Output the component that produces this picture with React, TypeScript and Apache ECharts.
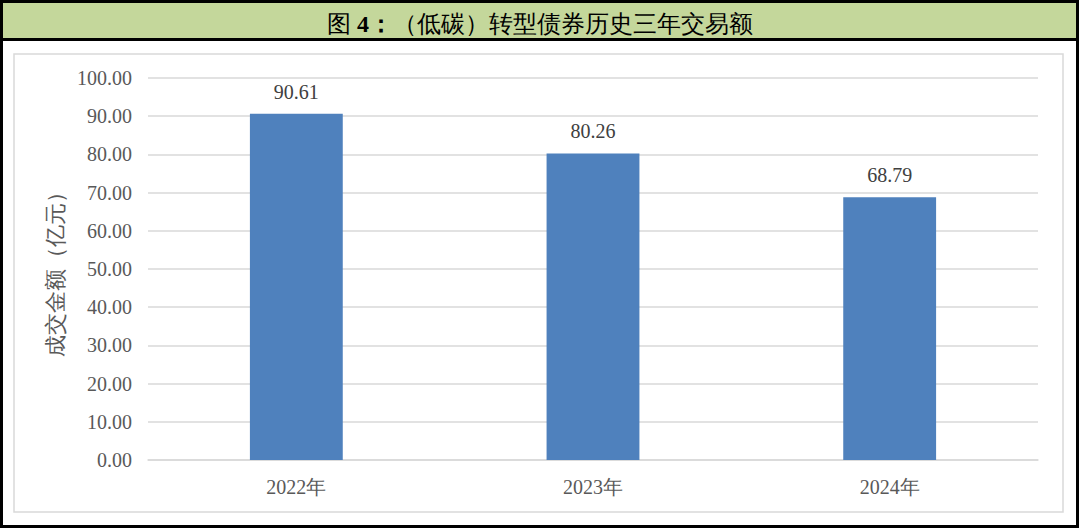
import React, { useEffect, useRef } from "react";
import * as echarts from "echarts";

const categories = ["2022年", "2023年", "2024年"];
const values = [90.61, 80.26, 68.79];
const yTicks = { min: 0, max: 100, interval: 10 };
const titleParts = ["图 ", "4：", "（低碳）转型债券历史三年交易额"];
const yName = "成交金额（亿元）";

const FONT = "Liberation Serif, Times New Roman, serif";

export default function App() {
  const ref = useRef<HTMLDivElement>(null);
  useEffect(() => {
    document.body.style.margin = "0";
    const chart = echarts.init(ref.current!, null, { renderer: "svg" });
    chart.setOption({
      animation: false,
      backgroundColor: "#ffffff",
      textStyle: { fontFamily: FONT },
      title: {
        text: `{a|${titleParts[0]}}{b|${titleParts[1]}}{a|${titleParts[2]}}`,
        left: "center",
        top: 7,
        textStyle: {
          rich: {
            a: { fontFamily: FONT, fontSize: 24, color: "#000", fontWeight: "normal" },
            b: { fontFamily: FONT, fontSize: 24, color: "#000", fontWeight: "bold" },
          },
        },
      },
      graphic: [
        { type: "rect", z: -10, shape: { x: 3, y: 3, width: 1073, height: 36 }, style: { fill: "#c4d79b" } },
        { type: "rect", z: -5, shape: { x: 1.5, y: 1.5, width: 1076, height: 525 }, style: { fill: "none", stroke: "#000", lineWidth: 3 } },
        { type: "line", z: -5, shape: { x1: 2, y1: 39.5, x2: 1078, y2: 39.5 }, style: { stroke: "#000", lineWidth: 3 } },
        { type: "rect", z: -5, shape: { x: 14, y: 54, width: 1049, height: 458 }, style: { fill: "none", stroke: "#d9d9d9", lineWidth: 1.5 } },
      ],
      grid: { left: 148, right: 42, top: 78, bottom: 69, containLabel: false },
      xAxis: {
        type: "category",
        data: categories,
        axisLine: { lineStyle: { color: "#d9d9d9", width: 1.5 } },
        axisTick: { show: false },
        axisLabel: { color: "#595959", fontSize: 20, margin: 17, fontFamily: FONT },
      },
      yAxis: {
        type: "value",
        min: yTicks.min,
        max: yTicks.max,
        interval: yTicks.interval,
        name: yName,
        nameLocation: "middle",
        nameGap: 76,
        nameRotate: 90,
        nameTextStyle: { color: "#595959", fontSize: 22, fontFamily: FONT },
        axisLine: { show: false },
        axisTick: { show: false },
        axisLabel: {
          color: "#595959",
          fontSize: 20,
          margin: 16,
          fontFamily: FONT,
          formatter: (v: number) => v.toFixed(2),
        },
        splitLine: { lineStyle: { color: "#d9d9d9", width: 1.5 } },
      },
      series: [
        {
          type: "bar",
          data: values,
          barWidth: "31.3%",
          itemStyle: { color: "#4f81bd" },
          label: {
            show: true,
            position: "top",
            distance: 12,
            color: "#404040",
            fontSize: 20,
            fontFamily: FONT,
            formatter: (p: any) => p.value.toFixed(2),
          },
        },
      ],
    });
    return () => chart.dispose();
  }, []);
  return <div ref={ref} style={{ width: 1080, height: 529 }} />;
}
